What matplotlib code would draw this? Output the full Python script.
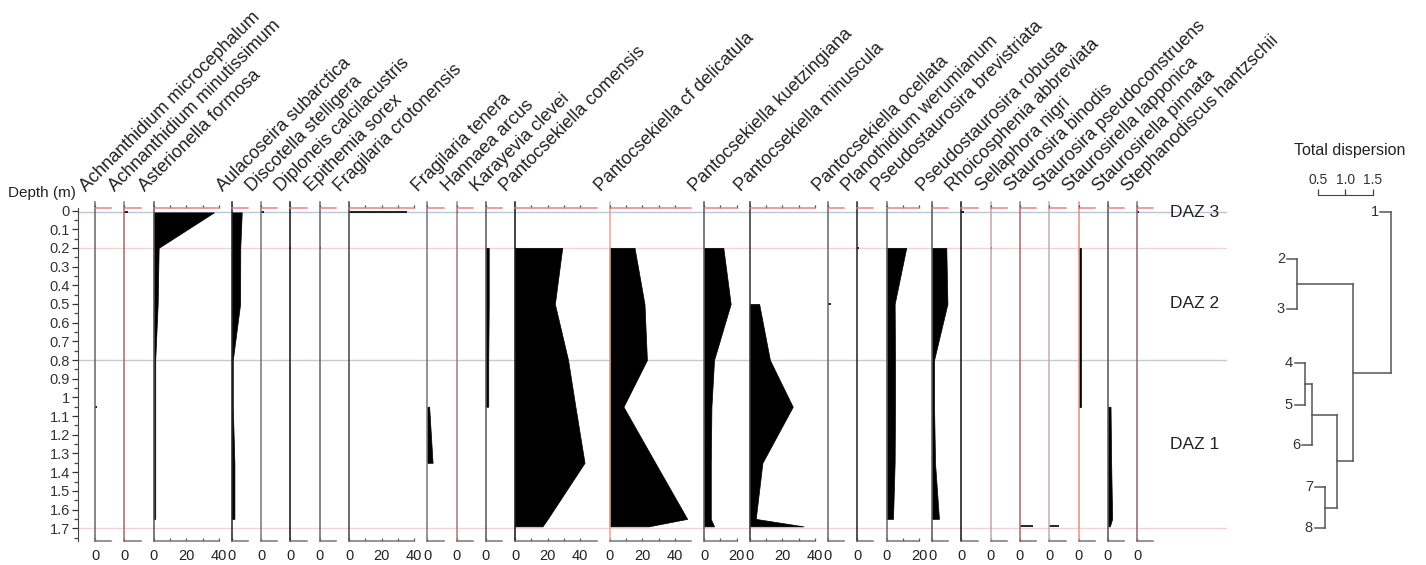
import numpy as np
import matplotlib
matplotlib.use('Agg')
import matplotlib.pyplot as plt
from matplotlib.ticker import FixedLocator, FuncFormatter

plt.rcParams['font.family'] = ['Liberation Sans', 'DejaVu Sans']

# ---- data (percentages per sample; nan = taxon absent) ----
N = np.nan
depths = [0.01, 0.2, 0.5, 0.8, 1.05, 1.35, 1.65, 1.69]

achn_microcephalum   = [N, N, N, N, 1.0, N, N, N]
achn_minutissimum    = [2.5, N, N, N, N, N, N, N]
asterionella_formosa = [37.0, 3.1, 2.5, 1.0, 1.0, 1.0, 1.0, N]
aulacoseira_subarct  = [6.1, 5.2, 5.1, 0.6, 0.6, 1.6, 1.6, N]
discotella_stell     = [1.6, N, N, N, N, N, N, N]
diploneis_calci      = [N, 0.5, N, N, N, N, N, N]
epithemia_sorex      = [N, 0.5, N, N, N, N, N, N]
fragilaria_croton    = [35.5, N, N, N, N, N, N, N]
fragilaria_tenera    = [N, N, N, N, 1.2, 3.3, N, N]
hannaea_arcus        = [1.0, N, N, N, N, N, N, N]
karayevia_clevei     = [N, 1.8, 1.8, 1.5, 1.5, N, N, N]
pant_comensis        = [N, 28.9, 24.4, 32.5, 37.0, 42.6, 20.0, 16.8]
pant_delicatula      = [N, 15.3, 21.4, 22.9, 8.5, 28.0, 47.6, 23.9]
pant_kuetzingiana    = [N, 11.8, 16.3, 6.1, 4.5, 4.1, 4.1, 6.1]
pant_minuscula       = [N, N, 5.8, 12.4, 26.4, 7.8, 3.7, 33.0]
pant_ocellata        = [N, N, 2.0, N, N, N, N, N]
planothidium_werum   = [N, 1.0, N, N, N, N, N, N]
pseudo_brevistriata  = [N, 12.1, 5.0, 5.2, 5.2, 5.0, 4.0, N]
pseudo_robusta       = [N, 8.7, 9.4, 1.2, 1.2, 1.8, 4.2, N]
rhoicosphenia_abbrev = [1.4, N, N, N, N, N, N, N]
sellaphora_nigri     = [N, 1.0, N, N, N, N, N, N]
staurosira_binodis   = [N, N, N, N, N, N, N, 7.8]
staurosira_pseudoc   = [N, N, N, N, N, N, N, 6.1]
staurosirella_lapp   = [N, 1.2, 1.2, 1.2, 1.2, N, N, N]
staurosirella_pinn   = [N, N, N, N, 1.6, 2.0, 2.6, 1.2]
stephanodiscus_hantz = [1.0, N, N, N, N, N, N, N]

taxa = [
    ('Achnanthidium microcephalum', achn_microcephalum),
    ('Achnanthidium minutissimum', achn_minutissimum),
    ('Asterionella formosa', asterionella_formosa),
    ('Aulacoseira subarctica', aulacoseira_subarct),
    ('Discotella stelligera', discotella_stell),
    ('Diploneis calcilacustris', diploneis_calci),
    ('Epithemia sorex', epithemia_sorex),
    ('Fragilaria crotonensis', fragilaria_croton),
    ('Fragilaria tenera', fragilaria_tenera),
    ('Hannaea arcus', hannaea_arcus),
    ('Karayevia clevei', karayevia_clevei),
    ('Pantocsekiella comensis', pant_comensis),
    ('Pantocsekiella cf delicatula', pant_delicatula),
    ('Pantocsekiella kuetzingiana', pant_kuetzingiana),
    ('Pantocsekiella minuscula', pant_minuscula),
    ('Pantocsekiella ocellata', pant_ocellata),
    ('Planothidium werumianum', planothidium_werum),
    ('Pseudostaurosira brevistriata', pseudo_brevistriata),
    ('Pseudostaurosira robusta', pseudo_robusta),
    ('Rhoicosphenia abbreviata', rhoicosphenia_abbrev),
    ('Sellaphora nigri', sellaphora_nigri),
    ('Staurosira binodis', staurosira_binodis),
    ('Staurosira pseudoconstruens', staurosira_pseudoc),
    ('Staurosirella lapponica', staurosirella_lapp),
    ('Staurosirella pinnata', staurosirella_pinn),
    ('Stephanodiscus hantzschii', stephanodiscus_hantz),
]

# zones
zone_names = ['DAZ 3', 'DAZ 2', 'DAZ 1']
zone_label_depth = [0.01, 0.5, 1.25]
zone_lines = [0.01, 0.2, 0.8, 1.7]

# CONISS dendrogram (leaves 0..7 = samples 1..8, merged nodes numbered from 8)
leaf_names = ['1', '2', '3', '4', '5', '6', '7', '8']
leaf_depth = [0.008, 0.26, 0.527, 0.816, 1.04, 1.255, 1.48, 1.70]
merge_a = [1, 3, 9, 6, 10, 8, 0]
merge_b = [2, 4, 5, 7, 11, 12, 13]
merge_h = [0.116, 0.262, 0.39, 0.628, 0.847, 1.14, 1.83]

# ---- layout (pixels of the 1426x565 canvas) ----
W, H = 1426, 565
Y0, PXM = 210.5, 186.9          # y pixel of depth 0, pixels per metre
Y_TOP, Y_BOT, Y_STUB = 202, 541, 207.7
PX_PER_PCT, GAP, X_START = 1.63, 13.0, 95.0
axis_max = [10, 10, 40, 10, 10, 10, 10, 40, 10, 10, 10, 50, 50, 20, 40,
            10, 10, 20, 10, 10, 10, 10, 10, 10, 10, 10]
line_cols = ['#666666', '#a86a6a', '#555555', '#222222', '#777777', '#111111',
             '#666666', '#444444', '#777777', '#a87a7a', '#555555', '#111111',
             '#e6a593', '#555555', '#333333', '#666666', '#222222', '#666666',
             '#555555', '#111111', '#c4a6a6', '#a86a6a', '#c8acac', '#e8907f',
             '#555555', '#8a6a6a']
STUB_RED = '#e58585'
AX_GRAY = '#777777'


def d_at(ypx):
    return (ypx - Y0) / PXM


def frac(x, y):
    return x / W, 1 - y / H


YLIM = (d_at(Y_BOT), d_at(Y_TOP))

fig = plt.figure(figsize=(W / 100, H / 100), dpi=100)

# depth axis + zone lines (background)
dax = fig.add_axes([78 / W, 1 - Y_BOT / H, (1227 - 78) / W, (Y_BOT - Y_TOP) / H])
dax.set_facecolor('none')
dax.set_xlim(0, 1)
dax.set_ylim(*YLIM)
for s in ['top', 'right', 'bottom']:
    dax.spines[s].set_visible(False)
dax.spines['left'].set_bounds(d_at(Y_STUB), d_at(Y_BOT))
dax.spines['left'].set_color('#444444')
dax.xaxis.set_visible(False)
dax.yaxis.set_major_locator(FixedLocator(np.round(np.arange(0, 1.71, 0.1), 2)))
dax.yaxis.set_minor_locator(FixedLocator(np.round(np.arange(0.05, 1.76, 0.1), 2)))
dax.yaxis.set_major_formatter(FuncFormatter(lambda v, p: f'{v:.1f}'.rstrip('0').rstrip('.')))
dax.tick_params(axis='y', which='major', length=4, width=0.9, pad=2,
                labelsize=10.5, colors='#333333')
dax.tick_params(axis='y', which='minor', length=3, width=0.9, colors='#444444')
zone_cols = ['#b9c6dc', '#f3d3d3', '#c3cad9', '#f3d3d3']
for dz, c in zip(zone_lines, zone_cols):
    dax.axhline(dz, color=c, lw=1.0, zorder=0)

fig.text(*frac(76, 193), 'Depth (m)', ha='right', va='center', fontsize=11,
         color='#222222')


def draw_curve(ax, vals):
    v = np.array(vals, float)
    d = np.array(depths)
    idx = np.flatnonzero(~np.isnan(v))
    if len(idx) == 0:
        return
    runs = np.split(idx, np.where(np.diff(idx) > 1)[0] + 1)
    for r in runs:
        if len(r) == 1:
            ax.plot([0, v[r[0]]], [d[r[0]], d[r[0]]], color='black', lw=1.2,
                    solid_capstyle='butt', clip_on=False)
        else:
            ax.fill_betweenx(d[r], 0, v[r], facecolor='black', edgecolor='black',
                             lw=0.5, clip_on=False)


x0 = X_START
for (name, vals), wmax, lc in zip(taxa, axis_max, line_cols):
    wpx = wmax * PX_PER_PCT
    ax = fig.add_axes([x0 / W, 1 - Y_BOT / H, wpx / W, (Y_BOT - Y_TOP) / H])
    ax.set_facecolor('none')
    ax.set_xlim(0, wmax)
    ax.set_ylim(*YLIM)
    ax.yaxis.set_visible(False)
    for s in ['top', 'right']:
        ax.spines[s].set_visible(False)
    ax.spines['left'].set_color(lc)
    ax.spines['left'].set_linewidth(1.1)
    ax.spines['bottom'].set_color(AX_GRAY)
    ax.spines['bottom'].set_linewidth(1.1)

    majors = list(range(0, wmax + 1, 20)) if wmax >= 20 else [0]
    minors = list(range(10, min(wmax, 40) + 1, 20)) if wmax >= 20 else []
    ax.xaxis.set_major_locator(FixedLocator(majors))
    ax.xaxis.set_minor_locator(FixedLocator(minors))
    ax.tick_params(axis='x', which='both', direction='in', length=2.2, width=0.9,
                   colors='#555555', labelcolor='#222222', labelsize=10.5, pad=6,
                   top=False)

    # top stub axis (red) with upward ticks
    tw = ax.twiny()
    tw.set_xlim(0, wmax)
    for s in ['bottom', 'left', 'right']:
        tw.spines[s].set_visible(False)
    tw.spines['top'].set_position(('data', d_at(Y_STUB)))
    tw.spines['top'].set_color(STUB_RED)
    tw.spines['top'].set_linewidth(1.1)
    tw.xaxis.set_major_locator(FixedLocator(majors))
    tw.xaxis.set_minor_locator(FixedLocator(minors))
    tw.tick_params(axis='x', which='both', direction='out', length=2.2, width=0.9,
                   colors='#444444', labeltop=False)

    draw_curve(ax, vals)

    fig.text(*frac(x0 - 9, 192), name, rotation=45, rotation_mode='anchor',
             ha='left', va='baseline', fontsize=13, color='#222222')
    x0 += wpx + GAP

# zone labels
for zn, zd in zip(zone_names, zone_label_depth):
    fig.text(*frac(1170, Y0 + zd * PXM), zn, ha='left', va='center',
             fontsize=12.5, color='#222222')

# ---- dendrogram ----
DX_L, DX_R, DY_TOP = 1250, 1420, 195
DPX = 54.7          # pixels per dispersion unit, 0.5 at x=1318
dx = fig.add_axes([DX_L / W, 1 - Y_BOT / H, (DX_R - DX_L) / W, (Y_BOT - DY_TOP) / H])
dx.set_facecolor('none')
dx.set_xlim(0.5 + (DX_L - 1318) / DPX, 0.5 + (DX_R - 1318) / DPX)
dx.set_ylim(d_at(Y_BOT), d_at(DY_TOP))
for s in ['bottom', 'left', 'right']:
    dx.spines[s].set_visible(False)
dx.spines['top'].set_bounds(0.5, 1.5)
dx.spines['top'].set_color('#444444')
dx.yaxis.set_visible(False)
dx.xaxis.tick_top()
dx.set_xticks([0.5, 1.0, 1.5], ['0.5', '1.0', '1.5'])
dx.tick_params(axis='x', direction='out', length=4, width=0.9, pad=1.5,
               labelsize=10, colors='#444444', labelcolor='#333333')

STUB = 0.19
DCOL = '#555555'
node_y = list(leaf_depth)
node_h = [None] * len(leaf_depth)
for a, b, h in zip(merge_a, merge_b, merge_h):
    for c in (a, b):
        if c < len(leaf_depth):
            dx.plot([h - STUB, h], [node_y[c], node_y[c]], color=DCOL, lw=1.1)
            dx.text(h - STUB - 0.03, node_y[c], leaf_names[c], ha='right',
                    va='center', fontsize=10.5, color='#333333')
        else:
            dx.plot([node_h[c], h], [node_y[c], node_y[c]], color=DCOL, lw=1.1)
    dx.plot([h, h], [node_y[a], node_y[b]], color=DCOL, lw=1.1)
    node_y.append((node_y[a] + node_y[b]) / 2)
    node_h.append(h)

fig.text(*frac(1350, 150), 'Total dispersion', ha='center', va='center',
         fontsize=11.5, color='#222222')

fig.savefig('out.png', dpi=100)
